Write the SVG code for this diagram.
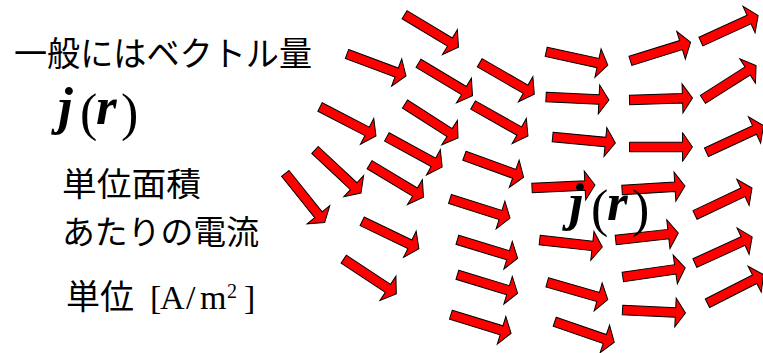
<svg xmlns="http://www.w3.org/2000/svg" xmlns:xlink="http://www.w3.org/1999/xlink" width="763" height="353" viewBox="0 0 763 353">
<style>
.jp{font-family:"Noto Sans CJK JP","Noto Sans",sans-serif;font-size:34px;fill:#000}
.jp2{font-family:"Noto Sans CJK JP","Noto Sans",sans-serif;font-size:33px;fill:#000}
.tm{font-family:"Liberation Serif",serif;font-size:34px;fill:#000}
.mi{font-family:"Liberation Serif",serif;font-size:53px;font-style:italic;font-weight:bold;fill:#000}
.mp{font-family:"Liberation Serif",serif;font-size:52px;fill:#000}
.arr{fill:#ff0000;stroke:#000;stroke-width:1;stroke-linejoin:miter}
</style>
<defs>
<path id="a" class="arr" d="M-31.5,-4.75 H21.5 V-14.5 L31.5,0 L21.5,14.5 V4.75 H-31.5 Z"/>
</defs>
<rect width="763" height="353" fill="#fff"/>
<g id="arrows">
<use href="#a" transform="translate(431.5,31) rotate(31.1)"/>
<use href="#a" transform="translate(376.5,65) rotate(20.4)"/>
<use href="#a" transform="translate(445.5,79.5) rotate(31)"/>
<use href="#a" transform="translate(507,78.5) rotate(29.9)"/>
<use href="#a" transform="translate(577,58.5) rotate(12.2)"/>
<use href="#a" transform="translate(660.5,51.5) rotate(-17.3)"/>
<use href="#a" transform="translate(729.5,28.5) rotate(-24.6)"/>
<use href="#a" transform="translate(348,121.5) rotate(27.4)"/>
<use href="#a" transform="translate(431.5,121) rotate(32.7)"/>
<use href="#a" transform="translate(500.5,120.5) rotate(29.4)"/>
<use href="#a" transform="translate(577.5,98.5) rotate(2.8)"/>
<use href="#a" transform="translate(661,99) rotate(-1.8)"/>
<use href="#a" transform="translate(729.5,82.5) rotate(-32.5)"/>
<use href="#a" transform="translate(414.5,152) rotate(28.6)"/>
<use href="#a" transform="translate(494,166.5) rotate(19.9)"/>
<use href="#a" transform="translate(584,140) rotate(5.5)"/>
<use href="#a" transform="translate(661,147) rotate(0)"/>
<use href="#a" transform="translate(735,139) rotate(-24.9)"/>
<use href="#a" transform="translate(338,171.5) rotate(43.1)"/>
<use href="#a" transform="translate(396.5,181) rotate(31.1)"/>
<use href="#a" transform="translate(305,198) rotate(51.3)"/>
<use href="#a" transform="translate(563.5,186.5) rotate(-2.8)"/>
<use href="#a" transform="translate(653.5,188) rotate(-3.6)"/>
<use href="#a" transform="translate(723.5,201.5) rotate(-25.3)"/>
<use href="#a" transform="translate(480,208.5) rotate(17.6)"/>
<use href="#a" transform="translate(390.5,235) rotate(25.7)"/>
<use href="#a" transform="translate(487.5,249) rotate(17)"/>
<use href="#a" transform="translate(571,243.5) rotate(6.4)"/>
<use href="#a" transform="translate(647,236.5) rotate(-6.4)"/>
<use href="#a" transform="translate(723.5,250) rotate(-24.5)"/>
<use href="#a" transform="translate(487.5,284) rotate(17)"/>
<use href="#a" transform="translate(577.5,291) rotate(16)"/>
<use href="#a" transform="translate(654,272.5) rotate(-8.3)"/>
<use href="#a" transform="translate(735.5,289) rotate(-27)"/>
<use href="#a" transform="translate(370,276.5) rotate(33.4)"/>
<use href="#a" transform="translate(481,324) rotate(17.2)"/>
<use href="#a" transform="translate(654,311.5) rotate(2.8)"/>
<use href="#a" transform="translate(584.5,332) rotate(19)"/>
</g>
<g id="labels">
<text class="jp" x="14" y="66" textLength="298" lengthAdjust="spacingAndGlyphs">一般にはベクトル量</text>
<g id="jr-left">
<text><tspan class="mi" x="58" y="124">j</tspan><tspan class="mp" x="80" y="130">(</tspan><tspan class="mi" x="96" y="124">r</tspan><tspan class="mp" x="121" y="130">)</tspan></text>
</g>
<text class="jp2" x="62" y="196" textLength="139" lengthAdjust="spacingAndGlyphs">単位面積</text>
<text class="jp2" x="62" y="244" textLength="197" lengthAdjust="spacingAndGlyphs">あたりの電流</text>
<text class="jp" x="66" y="309">単位</text>
<text class="tm"><tspan x="150" y="309">[</tspan><tspan x="160" y="309">A</tspan><tspan x="186" y="309">/</tspan><tspan x="200" y="309">m</tspan><tspan x="227" y="298" style="font-size:20px">2</tspan><tspan x="244" y="309">]</tspan></text>
<g id="jr-center">
<text><tspan class="mi" x="569" y="220">j</tspan><tspan class="mp" x="591" y="226">(</tspan><tspan class="mi" x="607" y="220">r</tspan><tspan class="mp" x="632" y="226">)</tspan></text>
</g>
</g>
</svg>
